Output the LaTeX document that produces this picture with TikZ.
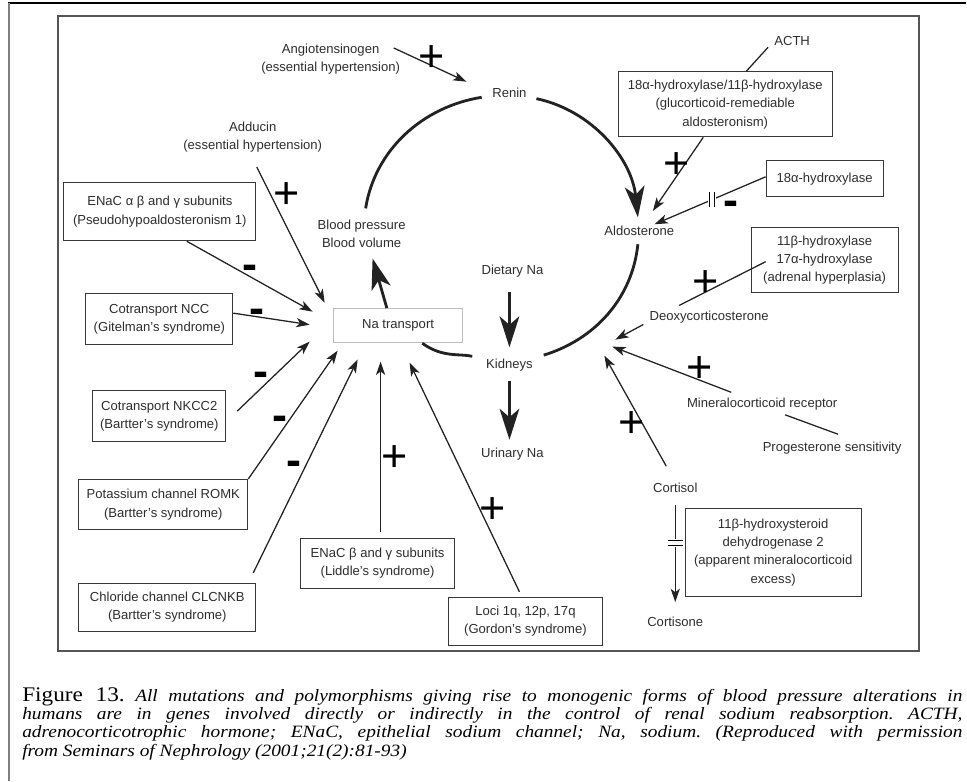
\documentclass[tikz,border=0pt]{standalone}
\usepackage{fontspec}
\setmainfont{Liberation Sans}
\newfontfamily\capfont[FakeStretch=1.12]{Liberation Serif}
\usepackage{tikz}
\usetikzlibrary{positioning, arrows.meta, calc}

\definecolor{inkc}{HTML}{222222}
\definecolor{txtc}{HTML}{2E2E2E}
\definecolor{framec}{HTML}{555555}
\definecolor{natrc}{HTML}{BDBDBD}

\begin{document}
\begin{tikzpicture}[
    x=0.025cm, y=0.025cm,
    lbl/.style={align=center, inner sep=1pt, text=txtc, font=\fontsize{9.3}{13.1}\selectfont},
    gene/.style={lbl, draw=inkc!90, line width=0.75pt},
    thinarr/.style={-{Stealth[length=9.5pt, width=6.5pt, inset=2.5pt]}, line width=0.9pt, draw=inkc},
    thinline/.style={line width=0.9pt, draw=inkc},
    bigarr/.style={-{Stealth[length=22pt, width=14pt, inset=6pt]}, line width=2pt, draw=inkc},
    cycleline/.style={line width=2pt, draw=inkc},
    sgnplus/.style={inner sep=0pt, text=black, font=\fontsize{32}{32}\selectfont, yshift=-1.9pt},
    sgnminus/.style={inner sep=0pt, text=black, font=\fontsize{32}{32}\selectfont\bfseries, yshift=-3.2pt},
    brk/.style={fill=white, inner xsep=0.6pt, inner ysep=0pt}
    ]

    % Page and frame
    \path[fill=white] (0,0) rectangle (967,-782);
    \draw[line width=1.5pt, black] (8,-3) -- (967,-3);
    \draw[line width=1.2pt, black!50] (9,-3) -- (9,-782);
    \draw[line width=1.2pt, framec] (58,-16) rectangle (920,-652);

    % Renin cycle
    \node[lbl] (renin) at (510,-93) {Renin};
    \node[lbl] (ald) at (640,-231) {Aldosterone};
    \node[lbl] (kid) at (510,-366) {Kidneys};
    \node[lbl] (blood) at (362,-234) {Blood pressure\\Blood volume};
    \node[lbl, draw=natrc, line width=0.9pt, minimum width=3.225cm, minimum height=0.85cm] (natr) at (398.5,-326) {Na transport};
    \node[lbl] (diet) at (513,-271) {Dietary Na};
    \node[lbl] (urin) at (513,-455) {Urinary Na};

    \draw[bigarr, shorten <=6pt, shorten >=5pt] (renin) to[out=-12, in=96] (ald);
    \draw[cycleline, shorten <=5pt, shorten >=7pt] (ald) to[out=-96, in=17] (kid);
    \draw[cycleline, shorten <=9pt] (kid) to[out=166, in=-36] (natr);
    \draw[cycleline, shorten <=7pt, shorten >=6.5pt] (blood) to[out=81, in=-171] (renin);
    \draw[bigarr] ([xshift=-8pt]natr.north) -- ([shift={(11,-9)}]blood.south);
    \draw[bigarr, shorten <=9.5pt, shorten >=7.5pt] (kid |- diet.south) -- (kid.north);
    \draw[bigarr, shorten <=5.7pt, shorten >=5pt] (kid.south) -- (kid |- urin.north);

    % Upstream of renin
    \node[lbl] (ang) at (331,-59) {Angiotensinogen\\(essential hypertension)};
    \draw[thinarr, shorten >=19pt] ([shift={(-8,-6)}]ang.north east) -- (renin.west);
    \node[sgnplus] (pAng) at (432,-56) {+};

    % Regulators of Na transport
    \node[lbl] (add) at (253,-137.5) {Adducin\\(essential hypertension)};
    \node[gene, minimum width=4.8cm, minimum height=1.45cm] (enac) at (160,-212) {ENaC α β and γ subunits\\(Pseudohypoaldosteronism 1)};
    \node[gene, minimum width=3.675cm, minimum height=1.275cm] (ncc) at (159.5,-319.5) {Cotransport NCC\\(Gitelman's syndrome)};
    \node[gene, minimum width=3.325cm, minimum height=1.275cm] (nkcc) at (159.5,-416.5) {Cotransport NKCC2\\(Bartter's syndrome)};
    \node[gene, minimum width=4.225cm, minimum height=1.25cm] (romk) at (163.5,-505) {Potassium channel ROMK\\(Bartter's syndrome)};
    \node[gene, minimum width=4.425cm, minimum height=1.2cm] (clc) at (167.5,-608) {Chloride channel CLCNKB\\(Bartter's syndrome)};
    \node[gene, minimum width=3.85cm, minimum height=1.25cm] (lid) at (378,-564) {ENaC β and γ subunits\\(Liddle's syndrome)};
    \node[gene, minimum width=3.85cm, minimum height=1.2cm] (gor) at (526,-622) {Loci 1q, 12p, 17q\\(Gordon's syndrome)};

    \coordinate (inAdd) at (325,-303);
    \coordinate (inEnac) at (313,-312);
    \coordinate (inNcc) at (310,-325);
    \coordinate (inNkcc) at (310,-342);
    \coordinate (inRomk) at (338,-351);
    \coordinate (inClc) at (358,-360);
    \coordinate (inLid) at (381,-362);
    \coordinate (inGor) at (410,-363);

    \draw[thinarr] ([shift={(4,-12.7)}]add.south) -- (inAdd);
    \draw[thinarr] ([shift={(27,0)}]enac.south) -- (inEnac);
    \draw[thinarr] ([shift={(0,6)}]ncc.east) -- (inNcc);
    \draw[thinarr] ([shift={(11,5)}]nkcc.east) -- (inNkcc);
    \draw[thinarr] (romk.north east) -- (inRomk);
    \draw[thinarr] ([shift={(-3,10)}]clc.north east) -- (inClc);
    \draw[thinarr] ([shift={(3,6)}]lid.north) -- (inLid);
    \draw[thinarr] ([shift={(-6,5)}]gor.north) -- (inGor);

    \node[sgnplus] (pAdd) at (287,-193) {+};
    \node[sgnminus] (mEnac) at (250,-268) {-};
    \node[sgnminus] (mNcc) at (257,-312) {-};
    \node[sgnminus] (mNkcc) at (261,-375) {-};
    \node[sgnminus] (mRomk) at (280,-419) {-};
    \node[sgnminus] (mClc) at (294,-464) {-};
    \node[sgnplus] (pLid) at (395,-456) {+};
    \node[sgnplus] (pGor) at (493,-508) {+};

    % Adrenal side
    \node[lbl] (acth) at (793,-41) {ACTH};
    \node[gene, minimum width=5.35cm, minimum height=1.625cm] (hydA) at (726,-104.5) {18α-hydroxylase/11β-hydroxylase\\(glucorticoid-remediable\\aldosteronism)};
    \node[gene, minimum width=2.925cm, minimum height=0.9cm] (hydB) at (825.5,-179) {18α-hydroxylase};
    \node[gene, minimum width=3.675cm, minimum height=1.625cm] (hydC) at (825.5,-260.5) {11β-hydroxylase\\17α-hydroxylase\\(adrenal hyperplasia)};
    \node[lbl] (doc) at (710,-317) {Deoxycorticosterone};
    \node[lbl] (mr) at (763,-405) {Mineralocorticoid receptor};
    \node[lbl] (prog) at (833,-449) {Progesterone sensitivity};
    \node[lbl] (cort) at (676,-488) {Cortisol};
    \node[gene, minimum width=4.4cm, minimum height=2.2cm] (hsd) at (774,-553) {11β-hydroxysteroid\\dehydrogenase 2\\(apparent mineralocorticoid\\excess)};
    \node[lbl] (cortn) at (676,-623) {Cortisone};

    \coordinate (inDoc) at (616,-340);
    \coordinate (inMr) at (613,-347);
    \coordinate (inCort) at (605,-356);

    \draw[thinline] ([shift={(-4.6,0)}]acth.south west) -- ([shift={(21,0)}]hydA.north);
    \draw[thinarr, shorten >=11.5pt] ([shift={(-22,0)}]hydA.south) -- (ald);
    \draw[thinarr] ([shift={(0,2)}]hydB.west) -- node[brk, pos=0.48] {\rule{0.7pt}{10.5pt}\hspace{3pt}\rule{0.7pt}{10.5pt}} (ald);
    \draw[thinline] ([shift={(15,-1.5)}]hydC.west) -- ([shift={(-30,3.5)}]doc.north);
    \draw[thinarr] ([shift={(-4.6,0)}]doc.south west) -- (inDoc);
    \draw[thinarr] ([shift={(-31,4.5)}]mr.north) -- (inMr);
    \draw[thinline] ([shift={(23,-2.5)}]mr.south) -- ([shift={(6,6.5)}]prog.north);
    \draw[thinarr] ([shift={(-9,14.8)}]cort.north) -- (inCort);
    \draw[thinarr, shorten <=7.8pt, shorten >=9.8pt] (cort) -- node[brk, sloped, pos=0.4] {\rule{0.7pt}{10.5pt}\hspace{3pt}\rule{0.7pt}{10.5pt}} (cortn);

    \node[sgnplus] (pHydA) at (677,-163) {+};
    \node[sgnminus] (mHydB) at (732,-204) {-};
    \node[sgnplus] (pHydC) at (706,-281) {+};
    \node[sgnplus] (pMr) at (700,-367) {+};
    \node[sgnplus] (pCort) at (632,-422) {+};

    % Caption
    \node[anchor=north west, inner sep=0pt, align=left, font=\capfont\fontsize{12.3}{13}\selectfont\frenchspacing] (cap) at (22,-688) {%
        \makebox[23.525cm][s]{{\fontsize{14.8}{13}\selectfont Figure 13.}\itshape\ All mutations and polymorphisms giving rise to monogenic forms of blood pressure alterations in}\\
        \makebox[23.525cm][s]{\itshape humans are in genes involved directly or indirectly in the control of renal sodium reabsorption. ACTH,}\\
        \makebox[23.525cm][s]{\itshape adrenocorticotrophic hormone; ENaC, epithelial sodium channel; Na, sodium. (Reproduced with permission}\\
        {\itshape from Seminars of Nephrology (2001;21(2):81-93)}};

\end{tikzpicture}
\end{document}
